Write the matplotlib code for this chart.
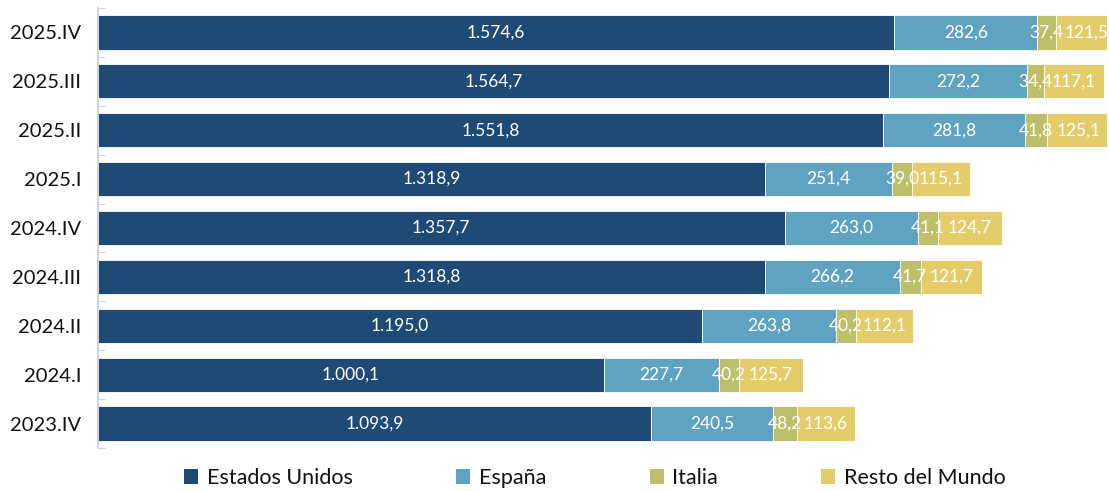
import numpy as np
import matplotlib
matplotlib.use("Agg")
from matplotlib import pyplot as plt
from matplotlib.patches import Patch

plt.rcParams["font.family"] = ["Lato", "DejaVu Sans"]

periods = ["2023.IV", "2024.I", "2024.II", "2024.III", "2024.IV",
           "2025.I", "2025.II", "2025.III", "2025.IV"]
estados_unidos = [1093.9, 1000.1, 1195.0, 1318.8, 1357.7, 1318.9, 1551.8, 1564.7, 1574.6]
espana = [240.5, 227.7, 263.8, 266.2, 263.0, 251.4, 281.8, 272.2, 282.6]
italia = [48.2, 40.2, 40.2, 41.7, 41.1, 39.0, 41.8, 34.4, 37.4]
resto = [113.6, 125.7, 112.1, 121.7, 124.7, 115.1, 125.1, 117.1, 121.5]

series = [
    ("Estados Unidos", estados_unidos, "#1f4a76"),
    ("España", espana, "#5fa3c1"),
    ("Italia", italia, "#bdbf6a"),
    ("Resto del Mundo", resto, "#e5cc6b"),
]


def fmt(v):
    # formato español: punto de miles, coma decimal
    s = f"{v:,.1f}"
    return s.replace(",", "X").replace(".", ",").replace("X", ".")


fig = plt.figure(figsize=(11.09, 4.91), dpi=100)
ax = fig.add_axes([98 / 1109, 1 - 448 / 491, 1009 / 1109, 440 / 491])

y = np.arange(len(periods))
left = np.zeros(len(periods))
for name, vals, color in series:
    vals = np.array(vals)
    ax.barh(y, vals, left=left, height=0.7, color=color, edgecolor="white", linewidth=0.6)
    for yi, l, v in zip(y, left, vals):
        ax.text(l + v / 2, yi, fmt(v), ha="center", va="center", color="white", fontsize=12.5)
    left += vals

ax.set_xlim(0, 1995)
ax.set_ylim(-0.5, len(periods) - 0.5)
ax.set_yticks(y)
ax.set_yticklabels(periods, fontsize=14.5, color="#111111")
ax.set_yticks(np.arange(-0.5, len(periods)), minor=True)
ax.tick_params(axis="y", which="major", length=0, pad=12)
ax.tick_params(axis="y", which="minor", length=5, color="#cccccc", direction="in")
ax.set_xticks([])
for side in ["top", "right", "bottom"]:
    ax.spines[side].set_visible(False)
ax.spines["left"].set_color("#cccccc")
ax.spines["left"].set_linewidth(1.2)

handles = [Patch(facecolor=c, label=n) for n, _, c in series]
fig.legend(handles=handles, loc="center", bbox_to_anchor=(595 / 1109, 1 - 478 / 491),
           ncol=4, frameon=False, fontsize=15.5, handlelength=0.65, handleheight=0.65,
           handletextpad=0.4, columnspacing=4.8, labelcolor="#111111")

fig.savefig("out.png", dpi=100)
